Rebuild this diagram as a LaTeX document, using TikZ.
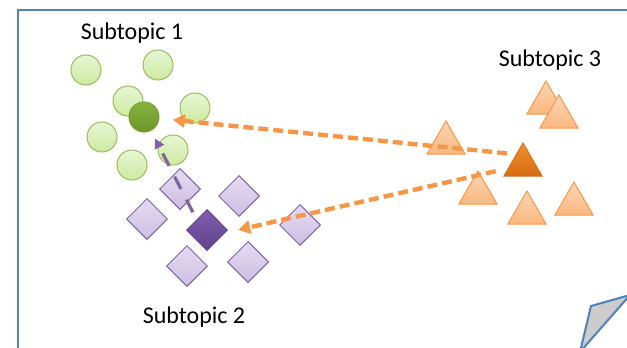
\documentclass[tikz,border=0pt]{standalone}
\usepackage{fontspec}
\setmainfont{Carlito}
\usetikzlibrary{shapes.geometric,arrows.meta}
\definecolor{frameBlue}{RGB}{79,129,189}
\definecolor{greenBorder}{RGB}{155,187,89}
\definecolor{purpleBorder}{RGB}{128,100,162}
\definecolor{orangeBorder}{RGB}{247,150,70}
\tikzset{
lightcircle/.style={circle, minimum size=15pt, inner sep=0pt, draw=greenBorder, line width=0.5pt, top color={rgb,255:red,232;green,246;blue,212}, bottom color={rgb,255:red,204;green,234;blue,160}},
darkcircle/.style={circle, minimum size=15pt, inner sep=0pt, draw={rgb,255:red,120;green,160;blue,50}, line width=0.5pt, top color={rgb,255:red,135;green,178;blue,62}, bottom color={rgb,255:red,108;green,148;blue,42}},
lightdiamond/.style={diamond, aspect=1, minimum size=20.5pt, inner sep=0pt, draw=purpleBorder, line width=0.5pt, top color={rgb,255:red,228;green,220;blue,242}, bottom color={rgb,255:red,204;green,190;blue,226}},
darkdiamond/.style={diamond, aspect=1, minimum size=20.5pt, inner sep=0pt, draw={rgb,255:red,100;green,70;blue,145}, line width=0.5pt, top color={rgb,255:red,128;green,94;blue,172}, bottom color={rgb,255:red,96;green,66;blue,140}},
lighttriangle/.style={regular polygon, regular polygon sides=3, minimum size=22pt, inner sep=0pt, draw=orangeBorder, line width=0.5pt, top color={rgb,255:red,252;green,214;blue,180}, bottom color={rgb,255:red,250;green,184;blue,128}},
darktriangle/.style={regular polygon, regular polygon sides=3, minimum size=22pt, inner sep=0pt, draw={rgb,255:red,215;green,115;blue,30}, line width=0.5pt, top color={rgb,255:red,242;green,142;blue,50}, bottom color={rgb,255:red,214;green,108;blue,18}},
topiclabel/.style={inner sep=0pt, font=\fontsize{12}{14}\selectfont},
orangearrow/.style={orangeBorder, line width=2.2pt, dash pattern=on 5pt off 2.5pt, -{Triangle[length=6pt,width=6.5pt]}},
purplearrow/.style={purpleBorder, line width=1.6pt, dash pattern=on 7pt off 6pt, -{Triangle[length=5pt,width=5pt]}}
}

\begin{document}
\begin{tikzpicture}[x=0.5pt, y=-0.5pt]
\useasboundingbox (0,0) rectangle (627,348);

% frame
\draw[frameBlue, line width=1pt] (18,360) -- (18,9.5) -- (640,9.5);
\draw[frameBlue, line width=1pt, fill=black!20] (580,352) -- (591,306) -- (630,295) -- cycle;

\node[topiclabel] (sub1) at (132,33) {Subtopic 1};
\node[topiclabel] (sub2) at (194,317) {Subtopic 2};
\node[topiclabel] (sub3) at (550,60) {Subtopic 3};

% subtopic 1
\node[lightcircle] (circ1) at (86,70) {};
\node[lightcircle] (circ2) at (158,65) {};
\node[lightcircle] (circ3) at (128,101) {};
\node[lightcircle] (circ4) at (195,108) {};
\node[lightcircle] (circ5) at (102,137) {};
\node[lightcircle] (circ6) at (173,150) {};
\node[lightcircle] (circ7) at (132,165) {};
\node[darkcircle] (circC) at (144,117) {};

% subtopic 2
\node[lightdiamond] (dmd1) at (180,189) {};
\node[lightdiamond] (dmd2) at (239,196) {};
\node[lightdiamond] (dmd3) at (147,219) {};
\node[lightdiamond] (dmd4) at (300,225) {};
\node[lightdiamond] (dmd5) at (187,266) {};
\node[lightdiamond] (dmd6) at (248,262) {};
\node[darkdiamond] (dmdC) at (207,230) {};

% subtopic 3
\node[lighttriangle] (trig1) at (546,103) {};
\node[lighttriangle] (trig2) at (559,117) {};
\node[lighttriangle] (trig3) at (446,143) {};
\node[lighttriangle] (trig4) at (478,193) {};
\node[lighttriangle] (trig5) at (527,213) {};
\node[lighttriangle] (trig6) at (574,204) {};
\node[darktriangle] (trigC) at (523,165) {};

\draw[orangearrow, shorten <=8pt, shorten >=14.5pt] ([yshift=5pt]trigC.center) -- (circC.center);
\draw[orangearrow, shorten <=14pt, shorten >=16pt] (trigC.center) -- ([yshift=-3.5pt]dmdC.center);
\draw[purplearrow, shorten <=10pt, shorten >=12pt] ([xshift=-2.5pt]dmdC.center) -- (circC.center);
\end{tikzpicture}
\end{document}
